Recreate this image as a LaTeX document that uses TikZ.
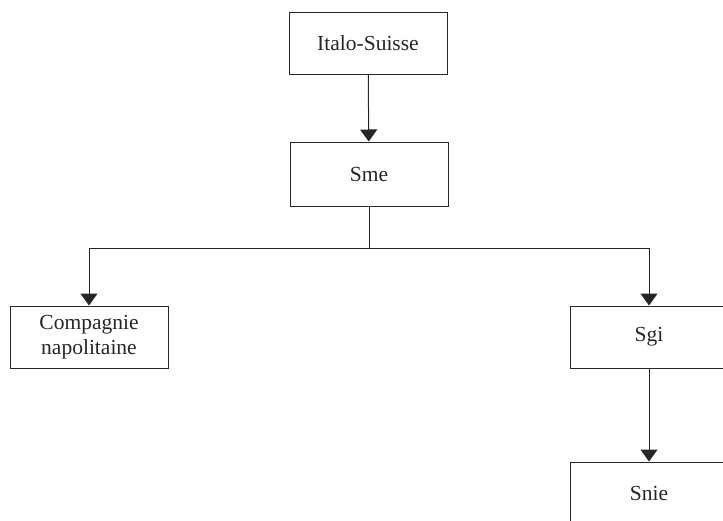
\documentclass[tikz,border=0pt]{standalone}
\usepackage{fontspec}
\setmainfont{Liberation Serif}
\usetikzlibrary{arrows.meta}
\tikzset{
  orgbox/.style={draw=black!85, line width=1pt, minimum width=158pt, minimum height=62pt, inner sep=0pt, align=center, font=\fontsize{21.5}{25}\selectfont, text=black!85},
  link/.style={draw=black!85, line width=1pt, -{Triangle[width=17pt,length=12pt]}}
}
\begin{document}
\begin{tikzpicture}[x=1pt,y=-1pt]
\useasboundingbox (0,0) rectangle (723,520);
\clip (0,0) rectangle (723,520);
\node[orgbox] (italo) at (368,43) {Italo-Suisse};
\node[orgbox, minimum height=64pt] (sme) at (369,174) {Sme};
\node[orgbox] (comp) at (89,337) {Compagnie\\napolitaine};
\node[orgbox] (sgi) at (649,337) {Sgi};
\node[orgbox] (snie) at (649,493) {Snie};
\coordinate (split) at (369,248);
\draw[link] (italo) -- (sme);
\draw[draw=black!85, line width=1pt] (sme.south) -- (split);
\draw[link] (split) -| (comp.north);
\draw[link] (split) -| (sgi.north);
\draw[link] (sgi) -- (snie);
\end{tikzpicture}
\end{document}
